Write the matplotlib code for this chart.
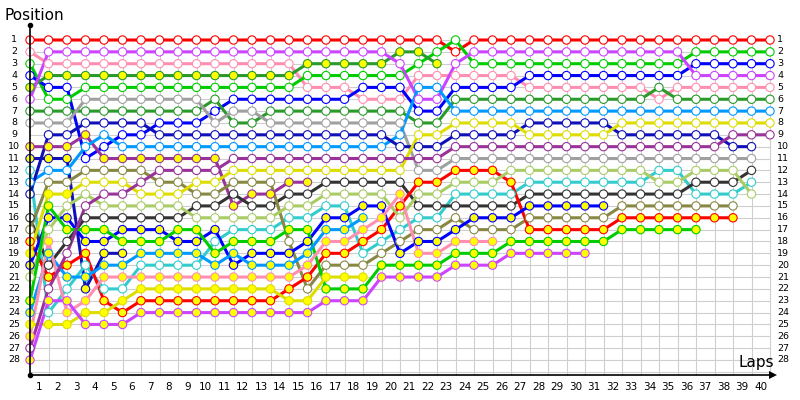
import numpy as np
import matplotlib
matplotlib.use("Agg")
import matplotlib.pyplot as plt

N = None

# race positions per driver, lap 0 (grid) .. lap 40
red_1 = [1,1,1,1,1,1,1,1,1,1, 1,1,1,1,1,1,1,1,1,1, 1,1,1,2,1,1,1,1,1,1, 1,1,1,1,1,1,1,1,1,1, 1]
pink_1 = [2,3,3,3,3,3,3,3,3,3, 3,3,3,3,3,5,5,5,6,6, 6,4,4,4,4,4,4,5,5,5, 5,5,5,5,6,5,5,5,5,5, 5]
green_1 = [3,6,6,5,5,5,5,5,5,5, 5,5,5,5,5,4,4,4,4,4, 4,3,2,1,3,3,3,3,3,3, 3,3,3,3,3,3,2,2,2,2, 2]
blue_1 = [4,5,5,11,10,9,9,8,8,8, 7,6,6,6,6,6,6,6,5,5, 5,7,7,5,5,5,5,4,4,4, 4,4,4,4,4,4,3,3,3,3, 3]
dkgreen_1 = [5,4,4,4,4,4,4,4,4,4, 4,4,4,4,4,3,3,3,3,3, 2,2,3,N,N,N,N,N,N,N, N,N,N,N,N,N,N,N,N,N, N]
violet_1 = [6,2,2,2,2,2,2,2,2,2, 2,2,2,2,2,2,2,2,2,2, 3,6,6,3,2,2,2,2,2,2, 2,2,2,2,2,2,4,4,4,4, 4]
dkgreen_2 = [7,7,7,7,7,7,7,7,7,7, 6,8,8,7,7,7,7,7,7,7, 7,8,8,6,6,6,6,6,6,6, 6,6,6,6,5,6,6,6,6,6, 6]
gray_1 = [8,8,8,6,6,6,6,6,6,6, 8,7,7,8,8,8,8,8,8,8, 8,12,12,11,11,11,11,11,11,11, 11,11,11,11,11,11,11,11,11,11, N]
purple_1 = [10,10,10,9,11,11,11,11,11,11, 11,15,14,14,13,13,N,N,N,N, N,N,N,N,N,N,N,N,N,N, N,N,N,N,N,N,N,N,N,N, N]
navy_1 = [11,11,11,22,19,19,N,N,N,N, N,N,N,N,N,N,N,N,N,N, N,N,N,N,N,N,N,N,N,N, N,N,N,N,N,N,N,N,N,N, N]
cyan_1 = [12,24,22,20,22,22,20,20,20,20, 18,17,17,17,16,16,15,15,19,18, 17,16,16,14,14,14,14,13,13,13, 13,13,13,13,12,12,14,14,14,13, N]
ltblue_1 = [13,12,12,10,9,10,10,10,10,10, 10,10,10,10,10,10,10,10,10,10, 9,5,5,7,7,7,7,7,7,7, 7,7,7,7,7,7,7,7,7,7, 7]
navy_2 = [14,9,9,8,8,8,8,9,9,9, 9,9,9,9,9,9,9,9,9,9, 10,10,10,9,9,9,9,8,8,8, 8,8,9,9,9,9,9,9,10,10, N]
dkgray_1 = [16,20,18,16,16,16,16,16,16,15, 15,14,15,15,14,14,13,13,13,13, 13,15,15,15,15,15,15,14,14,14, 14,14,14,14,14,14,13,13,13,12, N]
olive_1 = [17,13,13,12,12,12,12,13,13,14, 14,13,13,13,18,22,20,20,20,19, 18,17,17,16,17,17,17,16,16,16, 16,16,15,15,15,15,15,15,15,N, N]
red_2 = [18,21,20,19,23,24,23,23,23,23, 23,23,23,23,22,21,19,19,18,17, 15,13,13,12,12,12,13,17,17,17, 17,17,16,16,16,16,16,16,16,N, N]
yellow_1 = [19,14,14,13,13,13,14,14,14,13, 13,12,12,12,12,12,12,12,12,12, 12,9,9,8,8,8,8,9,9,9, 9,9,8,8,8,8,8,8,8,8, 8]
blue_2 = [20,16,16,18,18,17,17,17,18,18, 17,20,19,19,19,18,16,16,15,15, 19,18,18,17,16,16,16,15,15,15, 15,15,N,N,N,N,N,N,N,N, N]
ltgreen_1 = [21,17,15,14,15,15,15,15,15,16, 16,16,16,16,15,15,14,14,14,14, 16,14,14,13,13,13,12,12,12,12, 12,12,12,12,13,13,12,12,12,14, N]
green_2 = [23,15,17,17,17,18,18,18,17,17, 19,18,18,18,17,17,22,22,22,20, 20,20,20,19,19,19,18,18,18,18, 18,18,17,17,17,17,17,N,N,N, N]
ltblue_2 = [24,19,21,21,20,20,19,19,19,19, 20,19,20,20,20,19,17,17,16,N, N,N,N,N,N,N,N,N,N,N, N,N,N,N,N,N,N,N,N,N, N]
yellow_2 = [25,25,25,24,24,23,22,22,22,22, 22,22,22,22,23,23,21,21,21,N, N,N,N,N,N,N,N,N,N,N, N,N,N,N,N,N,N,N,N,N, N]
pink_2 = [26,18,24,23,21,21,21,21,21,21, 21,21,21,21,21,20,18,18,17,16, 14,19,19,18,18,18,N,N,N,N, N,N,N,N,N,N,N,N,N,N, N]
purple_2 = [27,22,19,15,14,14,13,12,12,12, 12,11,11,11,11,11,11,11,11,11, 11,11,11,10,10,10,10,10,10,10, 10,10,10,10,10,10,10,10,9,9, 9]
violet_2 = [28,23,23,25,25,25,24,24,24,24, 24,24,24,24,24,24,23,23,23,21, 21,21,21,20,20,20,19,19,19,19, 19,N,N,N,N,N,N,N,N,N, N]

# laps where yellow_1 is drawn with a filled marker
yellow_1_filled = [0, 1, 2]

RED, VIOLET, PINK = '#FF0000', '#CC44FF', '#FF8FB0'
DKGREEN, GREEN, GRAY = '#2A9A2A', '#00CC00', '#A0A0A0'
BLUE, NAVY, LTBLUE = '#0000FF', '#1010B8', '#0099FF'
PURPLE, OLIVE, YELLOW = '#993399', '#888844', '#DDDD00'
LTGREEN, CYAN, DKGRAY = '#AACC66', '#33CCCC', '#333333'
FILL_Y = '#FFFF00'

drivers = [
    (red_1, RED, False), (pink_1, PINK, False), (green_1, GREEN, False),
    (blue_1, BLUE, False), (dkgreen_1, DKGREEN, True), (violet_1, VIOLET, False),
    (dkgreen_2, DKGREEN, False), (gray_1, GRAY, False), (purple_1, PURPLE, True),
    (navy_1, NAVY, True), (cyan_1, CYAN, False), (ltblue_1, LTBLUE, False),
    (navy_2, NAVY, False), (dkgray_1, DKGRAY, False), (olive_1, OLIVE, False),
    (red_2, RED, True), (yellow_1, YELLOW, False), (blue_2, BLUE, True),
    (ltgreen_1, LTGREEN, False), (green_2, GREEN, True), (ltblue_2, LTBLUE, True),
    (yellow_2, YELLOW, True), (pink_2, PINK, True), (purple_2, PURPLE, False),
    (violet_2, VIOLET, True),
]

# pixel geometry of the original
X0, DX = 30.0, 18.5
Y0, DY = 40.0, 320.0 / 27
W, H = 800, 400

def px(x):
    return (x - X0) / DX

def py(y):
    return 1 + (y - Y0) / DY

fig = plt.figure(figsize=(8, 4), dpi=100)
ax = fig.add_axes([0, 0, 1, 1])
ax.set_xlim(px(0), px(W))
ax.set_ylim(py(H), py(0))
ax.axis('off')

laps = np.arange(41)
bottom = py(375)

# grid
grid_c = '#CFCFCF'
for r in range(1, 30):
    ax.plot([0, 40], [r, r], color=grid_c, lw=0.8, zorder=1)
for c in range(1, 41):
    ax.plot([c, c], [1, bottom], color=grid_c, lw=0.8, zorder=1)

# axes with arrow/dots
ax.plot([0, 0], [bottom, py(25)], color='black', lw=1.2, zorder=5)
ax.plot([0, px(772)], [bottom, bottom], color='black', lw=1.2, zorder=5)
ax.plot([0], [py(25)], marker='o', ms=3, color='black', zorder=6)
ax.plot([0], [bottom], marker='o', ms=3, color='black', zorder=6)
ax.plot([px(773)], [bottom], marker='>', ms=6, color='black', mew=0, zorder=6)

# lines
for pos, col, filled in drivers:
    y = np.array([np.nan if v is None else v for v in pos], dtype=float)
    ax.plot(laps, y, color=col, lw=2.2, solid_capstyle='round', zorder=2)

# markers
for pos, col, filled in drivers:
    y = np.array([np.nan if v is None else v for v in pos], dtype=float)
    if pos is yellow_1:
        face = [FILL_Y if i in yellow_1_filled else 'white' for i in range(41)]
    else:
        face = [FILL_Y if filled else 'white'] * 41
    ok = ~np.isnan(y)
    ax.scatter(laps[ok], y[ok], s=36, c=[f for f, k in zip(face, ok) if k],
               edgecolors=col, linewidths=0.8, zorder=3)

# labels
lab_font = ['Liberation Sans Narrow', 'DejaVu Sans']
for r in range(1, 29):
    ax.text(px(14), r, str(r), ha='center', va='center', fontsize=6.8,
            family=lab_font)
    ax.text(px(777), r, str(r), ha='left', va='center', fontsize=6.8,
            family=lab_font)
for k in range(1, 41):
    ax.text(k - 0.5, py(387), str(k), ha='center', va='center', fontsize=7.5)

ax.text(px(4), py(16), 'Position', ha='left', va='center', fontsize=11)
ax.text(px(774), py(363), 'Laps', ha='right', va='center', fontsize=11)

fig.savefig('out.png', dpi=100)
